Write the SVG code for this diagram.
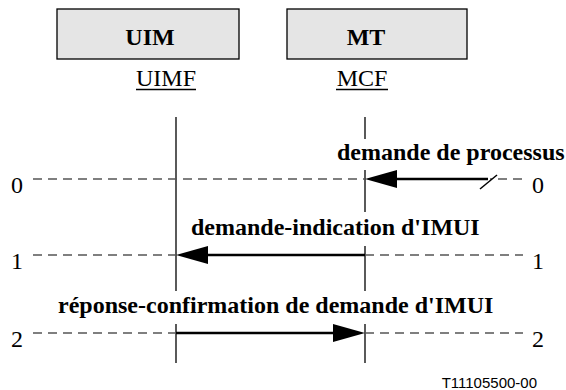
<svg xmlns="http://www.w3.org/2000/svg" xmlns:xlink="http://www.w3.org/1999/xlink" width="566" height="390" viewBox="0 0 566 390">
<style>
.box{fill:#e5e5e5;stroke:#000;stroke-width:1.3}
.life{stroke:#000;stroke-width:1.3}
.dash{stroke:#555;stroke-width:1.3;stroke-dasharray:9 6;fill:none}
.msg{stroke:#000;stroke-width:2.5;fill:none}
.bg{fill:#fff}
text.t{font-family:'Liberation Serif','Times New Roman',Times,'DejaVu Serif',serif;font-size:24px;fill:#000}
text.b{font-weight:bold}
.ul{stroke:#000;stroke-width:1.5}
text.fig{font-family:'Liberation Sans',Arial,sans-serif;font-size:15px;fill:#000}
</style>
<defs>
<path id="ah" d="M0,0 L-32,-9 L-32,9 Z" fill="#000"/>
</defs>
<rect width="566" height="390" fill="#fff"/>
<g id="node-uim">
<rect class="box" x="57" y="9" width="182" height="50"/>
<text class="t b" font-family="Liberation Serif, serif" x="150" y="45" text-anchor="middle">UIM</text>
<text class="t" font-family="Liberation Serif, serif" x="166" y="86" text-anchor="middle">UIMF</text>
<line class="ul" x1="136" y1="89.5" x2="196" y2="89.5"/>
<line class="life" x1="176" y1="117" x2="176" y2="363"/>
</g>
<g id="node-mt">
<rect class="box" x="287" y="9" width="180" height="50"/>
<text class="t b" font-family="Liberation Serif, serif" x="366" y="45" text-anchor="middle">MT</text>
<text class="t" font-family="Liberation Serif, serif" x="362" y="86" text-anchor="middle">MCF</text>
<line class="ul" x1="336" y1="89.5" x2="388" y2="89.5"/>
<line class="life" x1="365" y1="117" x2="365" y2="363"/>
</g>
<g id="labels" font-family="Liberation Serif, serif">
<rect class="bg" x="333" y="139" width="233" height="31"/>
<text class="t b" x="337" y="160">demande de processus</text>
<rect class="bg" x="187" y="212" width="297" height="34"/>
<text class="t b" x="191" y="235">demande-indication d'IMUI</text>
<rect class="bg" x="54" y="291" width="453" height="33"/>
<text class="t b" x="58" y="313">réponse-confirmation de demande d'IMUI</text>
</g>
<g id="rows" font-family="Liberation Serif, serif">
<text class="t" x="11" y="193">0</text>
<text class="t" x="532" y="193">0</text>
<text class="t" x="11" y="269">1</text>
<text class="t" x="532" y="269">1</text>
<text class="t" x="11" y="347">2</text>
<text class="t" x="532" y="347">2</text>
<path class="dash" d="M33,179 H523"/>
<path class="dash" d="M33,255 H176 M365,255 H523"/>
<path class="dash" d="M33,333 H176 M365,333 H523"/>
</g>
<g id="connectors">
<rect class="bg" x="366" y="176" width="124" height="6"/>
<line class="msg" x1="395" y1="179" x2="488" y2="179"/>
<line stroke="#000" stroke-width="1.5" x1="480" y1="189" x2="497" y2="175"/>
<use xlink:href="#ah" transform="translate(365,179) rotate(180)"/>
<line class="msg" x1="205" y1="255" x2="365" y2="255"/>
<use xlink:href="#ah" transform="translate(176,255) rotate(180)"/>
<line class="msg" x1="176" y1="333" x2="336" y2="333"/>
<use xlink:href="#ah" transform="translate(365,333)"/>
</g>
<text class="fig" x="537" y="388" text-anchor="end">T11105500-00</text>
</svg>
